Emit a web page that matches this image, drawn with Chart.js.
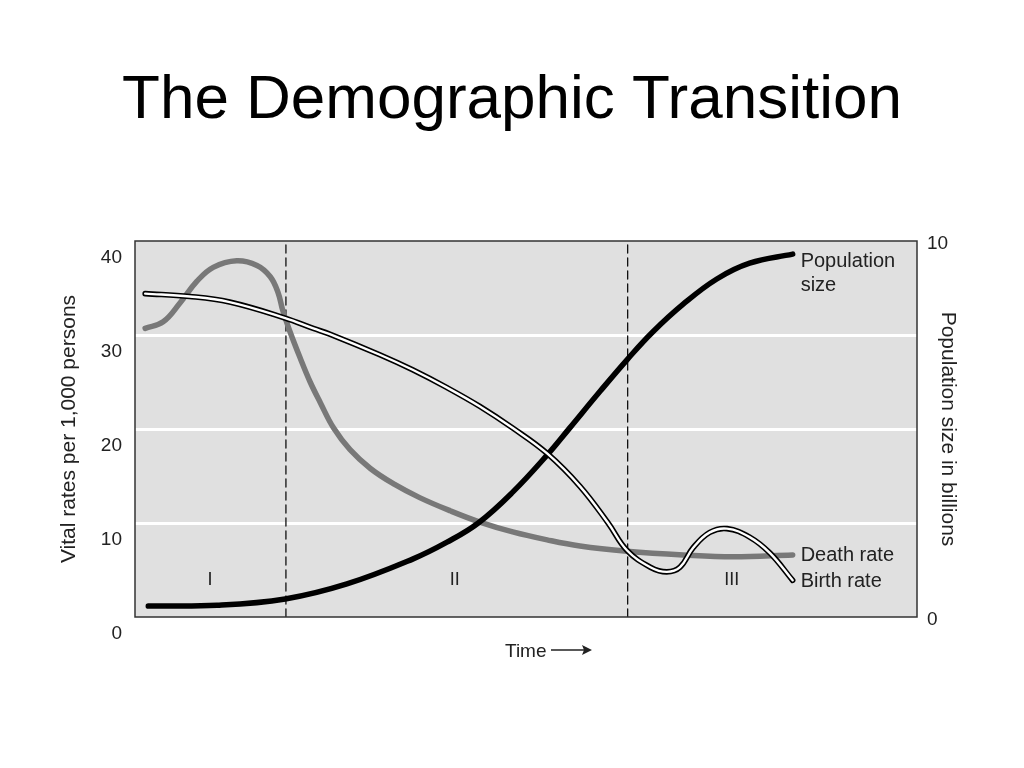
<!DOCTYPE html>
<html>
<head>
<meta charset="utf-8">
<title>The Demographic Transition</title>
<script src="https://cdn.jsdelivr.net/npm/chart.js@4.4.0/dist/chart.umd.min.js"></script>
<style>
  html, body { margin: 0; padding: 0; background: #fff; }
  #wrap { width: 1024px; height: 768px; position: relative; }
</style>
</head>
<body>
<div id="wrap"><canvas id="chart"></canvas></div>
<script>
// time is unitless in the figure, it runs 0..100 along the x axis
var deathTime = [1.3, 3.6, 5.75, 7.9, 10.0, 13.0, 15.6, 17.3, 18.3, 18.9, 19.8, 21.1, 22.4, 23.7, 25.4, 27.5, 30.1, 33.2, 36.4, 40.3, 44.1, 48.3, 52.7, 56.9, 62.9, 70.1, 76.5, 84.1];
var deathRate = [30.7, 31.4, 33.4, 35.7, 37.2, 37.9, 37.4, 36.2, 34.5, 32.6, 30.4, 27.6, 25.0, 22.8, 20.1, 17.8, 15.8, 14.1, 12.7, 11.3, 10.1, 9.05, 8.2, 7.55, 7.0, 6.6, 6.4, 6.6];

var birthTime = [1.3, 7.0, 12.1, 19.2, 22.8, 24.9, 31.3, 35.5, 39.9, 44.1, 48.3, 52.7, 56.9, 60.5, 62.9, 65.9, 68.0, 69.7, 71.4, 73.5, 75.7, 78.6, 81.2, 84.1];
var birthRate = [34.4, 34.1, 33.5, 31.8, 30.7, 30.1, 27.9, 26.3, 24.4, 22.4, 20.1, 17.4, 13.9, 10.0, 7.1, 5.3, 4.8, 5.3, 7.4, 9.0, 9.4, 8.5, 6.8, 3.9];

// population in billions (right axis)
var popTime = [1.7, 10.5, 19.2, 27.1, 35.5, 39.9, 43.9, 48.3, 52.8, 55.6, 59.5, 63.0, 66.2, 70.1, 74.4, 78.6, 84.1];
var popSize = [0.29, 0.31, 0.48, 0.88, 1.54, 1.99, 2.50, 3.32, 4.33, 5.03, 6.01, 6.86, 7.58, 8.32, 8.99, 9.41, 9.65];

var stageBounds = [19.3, 63.0];
var stageNames = ['I', 'II', 'III'];
var stageMid = [9.6, 40.9, 76.3];

var rateTicks = [0, 10, 20, 30, 40];
var popTicks = [0, 10];

var FONT = "'Liberation Sans', Arial, Helvetica, sans-serif";

function pts(xs, ys) {
  var out = [];
  for (var i = 0; i < xs.length; i++) out.push({ x: xs[i], y: ys[i] });
  return out;
}

function lastPx(chart, idx) {
  var m = chart.getDatasetMeta(idx).data;
  return m[m.length - 1];
}

var decor = {
  id: 'decor',
  beforeDraw: function (chart) {
    var a = chart.chartArea, c = chart.ctx;
    c.save();
    c.fillStyle = '#e0e0e0';
    c.fillRect(a.left, a.top, a.right - a.left, a.bottom - a.top);
    c.restore();
  },
  afterDraw: function (chart) {
    var a = chart.chartArea, c = chart.ctx;
    var xs = chart.scales.x, ys = chart.scales.y;
    c.save();
    // frame
    c.strokeStyle = '#333';
    c.lineWidth = 1.5;
    c.strokeRect(a.left, a.top, a.right - a.left, a.bottom - a.top);

    c.fillStyle = '#222';
    // stage numerals
    c.font = '18px ' + FONT;
    c.textAlign = 'center';
    c.textBaseline = 'alphabetic';
    for (var i = 0; i < stageNames.length; i++) {
      c.fillText(stageNames[i], xs.getPixelForValue(stageMid[i]), ys.getPixelForValue(3.4));
    }

    // line labels
    c.font = '20px ' + FONT;
    c.textAlign = 'left';
    var p = lastPx(chart, 2);
    c.fillText('Population', p.x + 8, p.y + 13);
    c.fillText('size', p.x + 8, p.y + 37);
    var d = lastPx(chart, 3);
    c.fillText('Death rate', d.x + 8, d.y + 6);
    var b = lastPx(chart, 1);
    c.fillText('Birth rate', b.x + 8, b.y + 7);

    // Time ->
    var cx = (a.left + a.right) / 2;
    c.font = '19px ' + FONT;
    c.fillText('Time', cx - 21, a.bottom + 40);
    c.strokeStyle = '#222';
    c.lineWidth = 1.3;
    c.beginPath();
    c.moveTo(cx + 25, a.bottom + 33);
    c.lineTo(cx + 60, a.bottom + 33);
    c.stroke();
    c.beginPath();
    c.moveTo(cx + 66, a.bottom + 33);
    c.lineTo(cx + 56, a.bottom + 28);
    c.lineTo(cx + 58, a.bottom + 33);
    c.lineTo(cx + 56, a.bottom + 38);
    c.closePath();
    c.fill();
    c.restore();
  }
};

var datasets = [
  { label: 'Birth rate inner', data: pts(birthTime, birthRate), yAxisID: 'y', borderColor: '#fff', borderWidth: 2.4, order: 0 },
  { label: 'Birth rate', data: pts(birthTime, birthRate), yAxisID: 'y', borderColor: '#000', borderWidth: 5.6, order: 1 },
  { label: 'Population size', data: pts(popTime, popSize), yAxisID: 'y2', borderColor: '#000', borderWidth: 5.5, order: 2 },
  { label: 'Death rate', data: pts(deathTime, deathRate), yAxisID: 'y', borderColor: '#787878', borderWidth: 5.5, order: 3 }
];
stageBounds.forEach(function (t) {
  datasets.push({
    label: 'stage', data: [{ x: t, y: 0 }, { x: t, y: 40 }], yAxisID: 'y',
    borderColor: '#111', borderWidth: 1.3, borderDash: [8, 5], order: 4, tension: 0
  });
});

new Chart(document.getElementById('chart'), {
  type: 'line',
  data: { datasets: datasets },
  options: {
    responsive: true,
    maintainAspectRatio: false,
    animation: false,
    layout: { padding: 0 },
    elements: {
      point: { radius: 0, hoverRadius: 0 },
      line: { tension: 0.4, borderCapStyle: 'round', borderJoinStyle: 'round', fill: false }
    },
    plugins: {
      legend: { display: false },
      tooltip: { enabled: false },
      title: {
        display: true,
        text: 'The Demographic Transition',
        color: '#000',
        font: { family: FONT, size: 62, weight: 'normal' },
        padding: { top: 64, bottom: 102.6 }
      }
    },
    scales: {
      x: {
        type: 'linear', min: 0, max: 100,
        ticks: { display: false },
        grid: { display: false },
        border: { display: false },
        afterFit: function (s) { s.height = 151; }
      },
      y: {
        position: 'left', min: 0, max: 40,
        afterBuildTicks: function (s) { s.ticks = rateTicks.map(function (v) { return { value: v }; }); },
        ticks: { labelOffset: 17, padding: 13, color: '#222', font: { family: FONT, size: 19 } },
        grid: {
          drawTicks: false,
          lineWidth: 3,
          color: function (ctx) {
            return (ctx.tick && ctx.tick.value > 0 && ctx.tick.value < 40) ? '#ffffff' : 'rgba(0,0,0,0)';
          }
        },
        border: { display: false },
        title: {
          display: true, text: 'Vital rates per 1,000 persons', color: '#222',
          font: { family: FONT, size: 21 }, padding: { top: 57, bottom: 0 }
        },
        afterFit: function (s) { s.width = 135; }
      },
      y2: {
        position: 'right', min: 0, max: 10,
        afterBuildTicks: function (s) { s.ticks = popTicks.map(function (v) { return { value: v }; }); },
        ticks: { padding: 2, labelOffset: 3, color: '#222', font: { family: FONT, size: 19 } },
        grid: { display: false },
        border: { display: false },
        title: {
          display: true, text: 'Population size in billions', color: '#222',
          font: { family: FONT, size: 21 }, padding: { top: 64, bottom: 0 }
        },
        afterFit: function (s) { s.width = 107; }
      }
    }
  },
  plugins: [decor]
});
</script>
</body>
</html>
